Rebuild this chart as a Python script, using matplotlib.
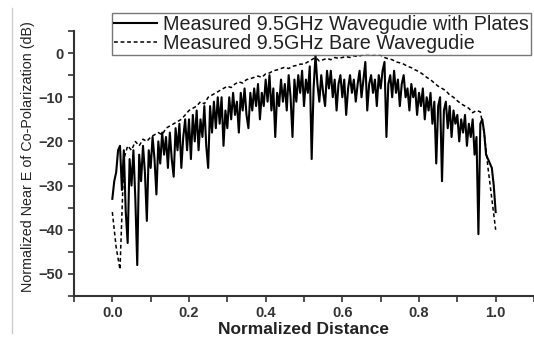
import numpy as np
import matplotlib.pyplot as plt
from matplotlib.ticker import MultipleLocator
from matplotlib.lines import Line2D

# measured 9.5GHz waveguide with plates (dB), sampled every 0.005
plates_db = [
    -33, -29, -27, -22, -21, -31, -22, -36, -43, -24,
    -30, -22, -33, -48, -23, -29, -21, -27, -38, -22,
    -26, -19, -24, -32, -20, -25, -18, -23, -19, -26,
    -18, -24, -28, -17, -22, -16, -26, -19, -15, -22,
    -15, -24, -14, -20, -13, -22, -15, -19, -12, -21,
    -26, -12, -18, -11, -17, -10, -16, -10, -21, -13,
    -17, -10, -15, -9, -14, -11, -18, -9, -13, -8,
    -14, -17, -9, -13, -8, -12, -7, -15, -9, -12,
    -6, -11, -5, -13, -8, -19, -9, -12, -6, -11,
    -7, -13, -5, -10, -19, -6, -11, -5, -9, -4,
    -12, -6, -9, -3, -24, -8, -0.5, -7, -11, -5,
    -9, -12, -4, -8, -4, -10, -6, -13, -7, -5,
    -10, -6, -14, -8, -5, -9, -6, -11, -7, -4,
    -10, -6, -2, -13, -7, -5, -9, -6, -12, -5,
    -8, -4, -2, -19, -7, -5, -10, -4, -9, -6,
    -12, -7, -5, -10, -8, -13, -7, -10, -8, -14,
    -9, -12, -8, -15, -10, -13, -9, -16, -11, -25,
    -12, -10, -29, -13, -11, -17, -12, -19, -13, -16,
    -14, -20, -15, -18, -14, -21, -16, -19, -15, -23,
    -19, -41, -16, -15, -18, -23, -24, -25, -26, -30,
    -36,
]

# measured 9.5GHz bare waveguide (dB), sampled every 0.01
bare_db = [
    -36, -44, -49, -24, -21, -22, -20, -21, -19.5, -20,
    -19, -18.5, -18, -18.5, -17, -16.5, -16, -15.5, -15, -14,
    -13, -12.5, -12, -11, -11.5, -10, -9.5, -9, -8.5, -8,
    -7.5, -7.8, -7, -6.5, -6.8, -6, -5.8, -5.5, -5.2, -5.5,
    -4.7, -4.5, -4, -3.8, -3.5, -3.2, -3.5, -3, -2.8, -2.5,
    -2.5, -2, -1.5, -1, -1.8, -1.5, -1.2, -1.5, -1, -1.2,
    -1, -0.8, -1, -0.6, -0.8, -0.5, -0.3, -0.3, -0.5, -0.2,
    -0.5, -1, -1.3, -1.5, -2, -2.2, -2.5, -3, -3.3, -3.8,
    -4.2, -4.8, -5.5, -6, -6.8, -7.5, -8, -8.5, -9.5, -10,
    -10.8, -11.5, -12, -12.5, -13.5, -13, -13.3, -18, -26, -33,
    -40,
]

x_plates = np.linspace(0, 1, len(plates_db))
x_bare = np.linspace(0, 1, len(bare_db))

plt.rcParams['font.family'] = ['Liberation Sans', 'DejaVu Sans']

fig = plt.figure(figsize=(5.34, 3.38), dpi=100)
ax = fig.add_axes([74 / 534, 42 / 338, 460 / 534, 265 / 338])

ax.plot(x_plates, plates_db, color='black', lw=1.5,
        label='Measured 9.5GHz Wavegudie with Plates')
ax.plot(x_bare, bare_db, color='black', lw=1.1, linestyle=(0, (2.5, 1.8)),
        label='Measured 9.5GHz Bare Wavegudie')

ax.set_xlim(-0.1, 1.1)
ax.set_ylim(-55, 5)
ax.xaxis.set_major_locator(MultipleLocator(0.2))
ax.xaxis.set_minor_locator(MultipleLocator(0.1))
ax.yaxis.set_major_locator(MultipleLocator(10))
ax.yaxis.set_minor_locator(MultipleLocator(5))
ax.set_xticks([0.0, 0.2, 0.4, 0.6, 0.8, 1.0])
ax.tick_params(which='both', direction='out', width=1.2, length=4.5,
               labelsize=10.5, colors='#333333', pad=3)
for lab in ax.get_xticklabels() + ax.get_yticklabels():
    lab.set_fontweight('bold')
for s in ['top', 'right']:
    ax.spines[s].set_visible(False)
for s in ['left', 'bottom']:
    ax.spines[s].set_linewidth(1.5)
    ax.spines[s].set_color('#333333')

ax.set_xlabel('Normalized Distance', fontsize=12.5, fontweight='bold',
              color='#222222', labelpad=1)
fig.text(28 / 534, 1 - 157 / 338, 'Normalized Near E of Co-Polarization (dB)',
         rotation=90, ha='center', va='center', fontsize=10.3,
         color='#222222')

leg = fig.legend(loc='upper left', bbox_to_anchor=(112 / 534, 1 - 13 / 338),
                 fontsize=14.2, frameon=True, fancybox=False,
                 handlelength=2.2, handletextpad=0.3, labelspacing=0.0,
                 borderpad=0.1, borderaxespad=0)
leg.get_frame().set_edgecolor('#555555')
leg.get_frame().set_linewidth(1.0)
for t in leg.get_texts():
    t.set_color('#222222')

# screenshot border on the left
fig.add_artist(Line2D([12 / 534, 12 / 534], [5 / 338, 330 / 338],
                      color='#cccccc', lw=1))

fig.savefig('out.png', dpi=100)
